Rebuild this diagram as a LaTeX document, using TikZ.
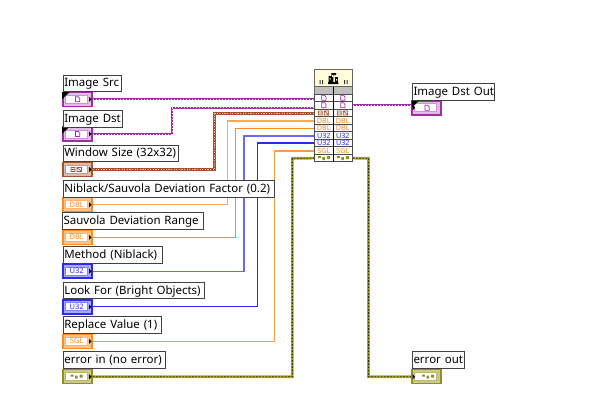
\documentclass[tikz,border=0pt]{standalone}
\usepackage{fontspec}
\setmainfont{Noto Sans}
\pgfdeclarelayer{top}
\pgfsetlayers{main,top}
\definecolor{cImg}{HTML}{A02CA6}
\definecolor{cImgL}{HTML}{E3BCE6}
\definecolor{cWin}{HTML}{A5532B}
\definecolor{cWinL}{HTML}{E2B9A0}
\definecolor{cDbl}{HTML}{FF8A1F}
\definecolor{cDblL}{HTML}{FFC48E}
\definecolor{cBlu}{HTML}{2A2AF0}
\definecolor{cBluL}{HTML}{A8A8FA}
\definecolor{cErr}{HTML}{8F9020}
\definecolor{cErrL}{HTML}{C9C98A}
\definecolor{cYel}{HTML}{C8C800}
\tikzset{
  lvlabel/.style={draw=black!75, line width=1pt, fill=white, anchor=north west, inner xsep=.6pt, inner ysep=0pt, minimum height=16.5pt, align=left, font=\fontsize{11.5}{13}\selectfont, text height=9.5pt, text depth=2.5pt},
  lvterm/.style={draw=#1, fill=#1L, line width=1.5pt, minimum width=29pt, minimum height=14pt, inner sep=0pt},
  lvinner/.style={draw=#1L!70!#1, fill=white, line width=.8pt, minimum width=22pt, minimum height=8pt, inner sep=0pt, text=#1, font=\fontsize{7.5}{7}\bfseries\selectfont},
  lvcell/.style={draw=black!70, line width=1pt, fill=white, minimum width=19pt, minimum height=7.55pt, inner sep=0pt, text=#1, font=\fontsize{7.2}{7}\bfseries\selectfont},
  wirethin/.style={draw=#1, line width=1.1pt},
  wireimg/.style={draw=cImg, line width=2.2pt, postaction={draw=white!85!cImg, line width=.6pt, dash pattern=on 1.2pt off 1.8pt}},
  wirewin/.style={draw=cWin, line width=2.6pt, postaction={draw=cWinL, line width=.8pt, dash pattern=on 1.2pt off 1.4pt}},
  wireerr/.style={draw=cYel!85!black, line width=2.6pt, postaction={draw=black!85, line width=.9pt, dash pattern=on 1.6pt off 1.6pt}},
  tipmark/.style={fill=black, draw=none},
  iconline/.style={draw=#1, line width=.7pt, fill=white},
}
\newcommand\lvlab[5]{\node[lvlabel, minimum width=#4pt, text width=#4pt-2.2pt] (#1) at (#2,#3) {\mbox{#5}};}
\newcommand\lvterminal[5]{%
  \node[lvterm=#4] (#1) at (#2,#3) {};
  \node[lvinner=#4] (#1in) at (#2-1,#3) {#5};}
\newcommand\lvpage[3]{\draw[iconline=#3] (#1-2,#2-2.5) -- (#1+.8,#2-2.5) -- (#1+2.2,#2-1) -- (#1+2.2,#2+2.5) -- (#1-2,#2+2.5) -- cycle;}
\newcommand\lvclust[3]{\draw[#3, line width=.7pt] (#1-5.5,#2-2) rectangle (#1-1.5,#2+2) (#1-5.5,#2) -- (#1-1.5,#2) (#1+.5,#2-2) rectangle (#1+5,#2+2) (#1+.5,#2-2) -- (#1+5,#2+2);}
\newcommand\lverr[3]{\fill[#3] (#1-6,#2-2) rectangle (#1-3,#2) (#1-1.5,#2-1) rectangle (#1+1,#2+2) (#1+3,#2-2) rectangle (#1+6,#2+1);}
\newcommand\lvcorner[2]{\fill[tipmark] (#1,#2) -- (#1+7.5,#2) -- (#1,#2+7) -- cycle;}
\begin{document}
\begin{tikzpicture}[x=1pt,y=-1pt]
\useasboundingbox[fill=white] (0,0) rectangle (592,402);

% ---- block diagram node
\node[draw=black!60, fill=yellow!15, line width=1pt, minimum width=38pt, minimum height=17.4pt, inner sep=0pt] (head) at (333.3,78) {};
\node[draw=black!60, fill=black!25, line width=1pt, minimum width=38pt, minimum height=7.3pt, inner sep=0pt] (gray) at (333.3,90.35) {};
\foreach \i/\t/\c in {1//cImg,2//cImg,3//cWin,4/DBL/cDbl,5/DBL/cDbl,6/U32/cBlu,7/U32/cBlu,8/SGL/cDbl,9//cErr}{
  \pgfmathsetmacro\yy{97.78+(\i-1)*7.55}
  \node[lvcell=\c] (l\i) at (323.8,\yy) {\t};
  \node[lvcell=\c] (r\i) at (342.8,\yy) {\t};
}
\draw[black, line width=1.3pt] (333.3,86.7) -- (333.3,162);
\fill[black] (328,84) rectangle (338.4,82) (328.6,82) rectangle (331.4,76) (331.4,82) rectangle (333.4,73) (333.4,75) rectangle (336,73) (335,82) rectangle (337.8,77);
\fill[yellow!15] (329.6,78) rectangle (330.6,79.5) (332,75) rectangle (333,77) (336,79) rectangle (337,80.5);
\fill[black!80] (319.5,80) rectangle (320.6,84) (322,80) rectangle (323.1,84) (344,80) rectangle (345.1,84) (346.5,80) rectangle (347.6,84);
\lvpage{323.8}{97.8}{cImg}\lvpage{342.8}{97.8}{cImg}
\lvpage{323.8}{105.3}{cImg}\lvpage{342.8}{105.3}{cImg}
\lvclust{323.8}{112.9}{cWin}\lvclust{342.8}{112.9}{cWin}
\lverr{323.8}{158.2}{cErr}\lverr{342.8}{158.2}{cErr}

% ---- labels (above the wires)
\begin{pgfonlayer}{top}
\lvlab{labSrc}{62.7}{74.6}{58}{Image Src}
\lvlab{labDst}{62.7}{110}{59}{Image Dst}
\lvlab{labWin}{62.7}{144.6}{115.3}{Window Size (32x32)}
\lvlab{labFac}{62.7}{180}{211.5}{Niblack/Sauvola Deviation Factor (0.2)}
\lvlab{labRan}{62}{212}{140.5}{Sauvola Deviation Range}
\lvlab{labMet}{62.7}{246.4}{99}{Method (Niblack)}
\lvlab{labLoo}{62.7}{281.8}{141.3}{Look For (Bright Objects)}
\lvlab{labRep}{62.7}{316.2}{98}{Replace Value (1)}
\lvlab{labErr}{62.7}{351.4}{102.3}{error in (no error)}
\lvlab{labOut}{411.9}{83.4}{82.4}{Image Dst Out}
\lvlab{labEro}{411.9}{351.4}{51.6}{error out}
\end{pgfonlayer}

% ---- terminals
\lvterminal{tSrc}{77.7}{99.3}{cImg}{}
\lvterminal{tDst}{77.7}{134}{cImg}{}
\lvterminal{tWin}{77.7}{169.5}{cWin}{}
\lvterminal{tFac}{77.7}{204.7}{cDbl}{DBL}
\lvterminal{tRan}{77.7}{237.3}{cDbl}{DBL}
\lvterminal{tMet}{77.7}{271.2}{cBlu}{U32}
\lvterminal{tLoo}{77.7}{306.8}{cBlu}{U32}
\lvterminal{tRep}{77.7}{341.3}{cDbl}{SGL}
\lvterminal{tErr}{77.7}{376.7}{cErr}{}
\lvterminal{tOut}{426.5}{107.8}{cImg}{}
\lvterminal{tEro}{426.5}{376.7}{cErr}{}
\lvpage{77.5}{99.3}{cImg}\lvpage{77.5}{134}{cImg}\lvpage{427}{107.8}{cImg}
\lvclust{76.5}{169.5}{cWin}
\lverr{76.5}{376.7}{cErr}\lverr{428}{376.7}{cErr}
\foreach \n in {tSrc,tDst,tWin,tFac,tRan,tMet,tLoo,tRep,tErr}{
  \fill[tipmark] ([xshift=-3.8pt,yshift=-2.4pt]\n.east) -- ([xshift=-1.4pt]\n.east) -- ([xshift=-3.8pt,yshift=2.4pt]\n.east) -- cycle;
}
\foreach \n in {tOut,tEro}{
  \fill[tipmark] ([xshift=1.4pt,yshift=-2.4pt]\n.west) -- ([xshift=3.8pt]\n.west) -- ([xshift=1.4pt,yshift=2.4pt]\n.west) -- cycle;
}
\lvcorner{62.2}{92}
\lvcorner{62.2}{126.6}
\lvcorner{411.9}{100.4}

% ---- wires
\draw[wireimg] (tSrc.east) -- (l1.west |- tSrc.east);
\draw[wireimg] (tDst.east) -- (172,134) -- (172,107.7) -- (l2.west |- 0,107.7);
\draw[wirewin] (tWin.east) -- (214.7,169.5) -- (214.7,113.7) -- (l3.west |- 0,113.7);
\draw[wirethin=cDbl!75!white, line width=1.5pt] (tFac.east) -- (227.7,204.7) -- (227.7,121) -- (l4.west |- 0,121);
\draw[wirethin=cDbl] (tRan.east) -- (235.3,237.3) -- (235.3,128.3) -- (l5.west |- 0,128.3);
\draw[wirethin=cBlu!70!white] (tMet.east) -- (244,271.2) -- (244,136) -- (l6.west |- 0,136);
\draw[wirethin=cBlu] (tLoo.east) -- (257.3,306.8) -- (257.3,143) -- (l7.west |- 0,143);
\draw[wirethin=cDbl!85!white] (tRep.east) -- (274.3,341.3) -- (274.3,151) -- (l8.west |- 0,151);
\draw[wireerr] (tErr.east) -- (292.3,376.7) -- (292.3,158.3) -- (l9.west);
\draw[wireimg] (r2.east) -- (r2.east -| tOut.west);
\draw[wireerr] (r9.east) -- (368.5,158.3) -- (368.5,376.7) -- (tEro.west);
\end{tikzpicture}
\end{document}
